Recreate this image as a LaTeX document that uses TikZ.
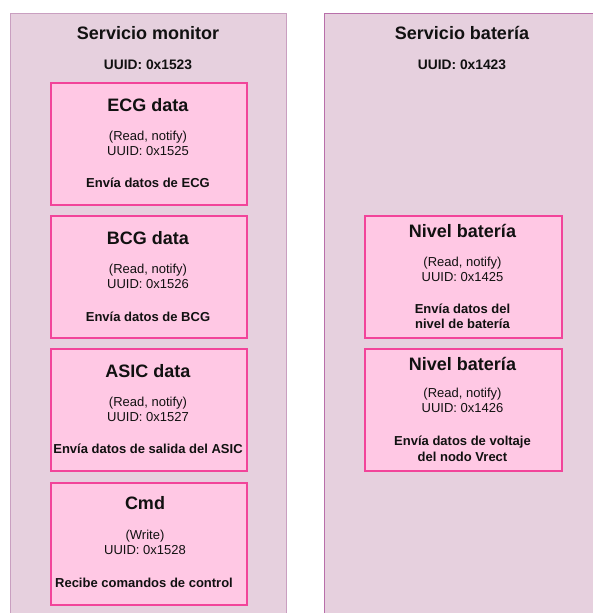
\documentclass[tikz,border=0pt]{standalone}
\usepackage{fontspec}
\setmainfont{Liberation Sans}
\definecolor{svcfill}{HTML}{E6D0DE}
\definecolor{svclineA}{HTML}{C99FC0}
\definecolor{svclineB}{HTML}{B86FAA}
\definecolor{charfill}{HTML}{FFC8E4}
\definecolor{charline}{HTML}{F2449A}
\definecolor{ink}{HTML}{111111}
\begin{document}
\begin{tikzpicture}[x=1pt,y=-1pt,
  service/.style={draw, fill=svcfill, line width=1.3pt, inner sep=0pt, anchor=north west},
  charbox/.style={draw=charline, fill=charfill, line width=1.5pt, inner sep=0pt,
    minimum width=196pt, minimum height=122pt, anchor=north west},
  title/.style={text=ink, font=\fontsize{18}{21}\selectfont\bfseries},
  hdr/.style={text=ink, font=\fontsize{13.8}{16}\selectfont\bfseries},
  prop/.style={text=ink, font=\fontsize{13}{15}\selectfont, align=center, inner sep=0pt},
  desc/.style={text=ink, font=\fontsize{13}{15.5}\selectfont\bfseries, align=center, inner sep=0pt}]
\useasboundingbox (0,0) rectangle (593,613);
\clip (0,0) rectangle (593,613);

% services
\node[service, draw=svclineA, minimum width=276.5pt, minimum height=620pt] (mon) at (9.5,12.5) {};
\node[service, draw=svclineB, minimum width=290pt, minimum height=620pt] (bat) at (324,12.5) {};
\node[title] (montitle) at (148,33) {Servicio monitor};
\node[hdr] (monuuid) at (148,65) {UUID: 0x1523};
\node[title] (battitle) at (462,33) {Servicio batería};
\node[hdr] (batuuid) at (462,65) {UUID: 0x1423};

% monitor characteristics
\node[charbox] (ecg) at (50,82) {};
\node[title] (ecgt) at (148,105) {ECG data};
\node[prop] (ecgp) at (148,143.5) {(Read, notify)\\UUID: 0x1525};
\node[desc] (ecgd) at (148,183) {Envía datos de ECG};

\node[charbox] (bcg) at (50,215) {};
\node[title] (bcgt) at (148,238) {BCG data};
\node[prop] (bcgp) at (148,276) {(Read, notify)\\UUID: 0x1526};
\node[desc] (bcgd) at (148,317) {Envía datos de BCG};

\node[charbox] (asic) at (50,348) {};
\node[title] (asict) at (148,371) {ASIC data};
\node[prop] (asicp) at (148,409.5) {(Read, notify)\\UUID: 0x1527};
\node[desc] (asicd) at (148,449) {Envía datos de salida del ASIC};

\node[charbox] (cmd) at (50,482) {};
\node[title] (cmdt) at (145,503) {Cmd};
\node[prop] (cmdp) at (145,542) {(Write)\\UUID: 0x1528};
\node[desc] (cmdd) at (144,583) {Recibe comandos de control};

% battery characteristics
\node[charbox, minimum width=197pt] (lvl) at (364,215) {};
\node[title] (lvlt) at (462.5,231) {Nivel batería};
\node[prop] (lvlp) at (462.5,269) {(Read, notify)\\UUID: 0x1425};
\node[desc] (lvld) at (462.5,316.5) {Envía datos del\\nivel de batería};

\node[charbox, minimum width=197pt] (vrect) at (364,348) {};
\node[title] (vrectt) at (462.5,364) {Nivel batería};
\node[prop] (vrectp) at (462.5,400.5) {(Read, notify)\\UUID: 0x1426};
\node[desc] (vrectd) at (462.5,449) {Envía datos de voltaje\\del nodo Vrect};
\end{tikzpicture}
\end{document}
